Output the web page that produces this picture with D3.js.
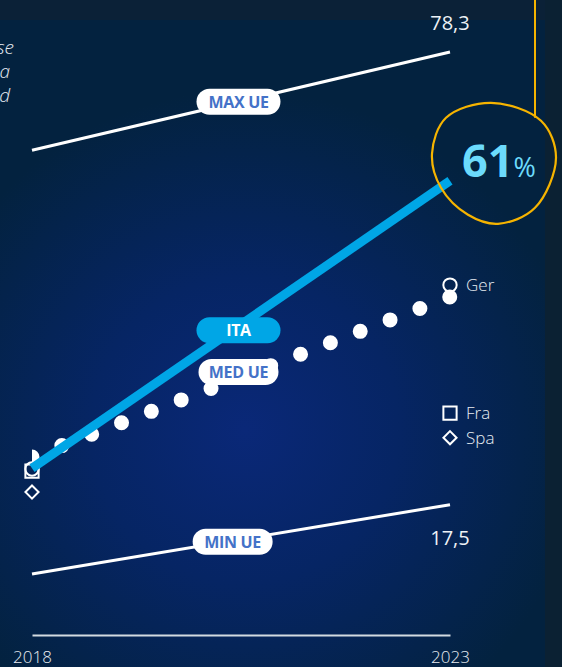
<!DOCTYPE html>
<html>
<head>
<meta charset="utf-8">
<script src="https://cdn.jsdelivr.net/npm/d3@7"></script>
<style>
body{margin:0;background:#03223f;overflow:hidden}
text{font-family:"Open Sans",sans-serif}
</style>
</head>
<body>
<div id="chart"></div>
<script>
// values
const years = [2018, 2023];
const ita = [22.4, 61.0];
const maxUe = [65.1, 78.3];
const minUe = [8.2, 17.5];
const medUe = [23.9, 45.4];
const countries = ["Ger", "Fra", "Spa"];
const ger = [22.3, 47.0];
const fra = [22.0, 29.8];
const spa = [19.2, 26.5];
const endLabels = ["78,3", "17,5"];
const introLines = ["che usano la carta rispetto alla base", "di clienti attivi in Italia e una", "media calcolata su tutto il mercato d"];

const width = 562;
const height = 667;

const svg = d3.select("#chart").append("svg")
    .attr("width", width)
    .attr("height", height);

const defs = svg.append("defs");
const grad = defs.append("radialGradient")
    .attr("id", "bg")
    .attr("gradientUnits", "userSpaceOnUse")
    .attr("cx", 245).attr("cy", 430).attr("r", 340);
grad.append("stop").attr("offset", "0").attr("stop-color", "#0a2878");
grad.append("stop").attr("offset", "0.45").attr("stop-color", "#062564");
grad.append("stop").attr("offset", "1").attr("stop-color", "#03223f");

// background
svg.append("rect").attr("width", width).attr("height", height).attr("fill", "url(#bg)");
svg.append("rect").attr("width", width).attr("height", 20).attr("fill", "#0b2137");
svg.append("rect").attr("x", 545).attr("width", 17).attr("height", height).attr("fill", "#0b2133");

const x = d3.scaleLinear().domain([2018, 2023]).range([32, 450]);
const y = d3.scaleLinear().domain([0, 78.3]).range([635, 52]);

defs.append("clipPath").attr("id", "plot")
    .append("rect").attr("x", x(2018)).attr("y", 0).attr("width", 600).attr("height", height);

// intro text, cut by the left edge
svg.append("g").selectAll("text")
    .data(introLines)
    .enter()
    .append("text")
    .attr("x", (d, i) => i == 0 ? 14 : 10)
    .attr("y", (d, i) => 54 + i * 24)
    .attr("text-anchor", "end")
    .attr("font-size", 19)
    .attr("font-style", "italic")
    .attr("font-weight", 300)
    .attr("fill", "#e6ebf2")
    .text(d => d);

// axis
const xAxis = d3.axisBottom(x)
    .tickValues(years)
    .tickFormat(d3.format("d"))
    .tickSize(0)
    .tickPadding(16);
const ax = svg.append("g")
    .attr("transform", "translate(0," + y(0) + ")")
    .call(xAxis);
ax.select(".domain").attr("stroke", "#d3dbe1").attr("stroke-width", 2);
ax.selectAll("text").attr("fill", "#e8edf2").attr("font-size", 17).attr("font-family", "Open Sans").attr("font-weight", 300);

const line = d3.line()
    .x((d, i) => x(years[i]))
    .y(d => y(d));

// max / min
[maxUe, minUe].forEach(s => {
    svg.append("path").attr("d", line(s))
        .attr("fill", "none").attr("stroke", "#ffffff").attr("stroke-width", 3);
});
svg.selectAll(".endlab")
    .data([maxUe, minUe])
    .enter()
    .append("text")
    .attr("class", "endlab")
    .attr("x", x(2023))
    .attr("y", (d, i) => i == 0 ? y(d[1]) - 22 : y(d[1]) + 40)
    .attr("text-anchor", "middle")
    .attr("font-size", 20)
    .attr("fill", "#eef2f6")
    .text((d, i) => endLabels[i]);

// median as dots
const med = svg.append("path").attr("d", line(medUe))
    .attr("clip-path", "url(#plot)")
    .attr("fill", "none").attr("stroke", "#ffffff")
    .attr("stroke-width", 15).attr("stroke-linecap", "round");
const len = med.node().getTotalLength();
med.attr("stroke-dasharray", "0," + (len / 14 - 0.02));

// country markers
const sym = {
    Ger: d3.symbol(d3.symbolCircle, 140),
    Fra: d3.symbol(d3.symbolSquare, 175),
    Spa: d3.symbol(d3.symbolDiamond2, 110)
};
const countryVals = [ger, fra, spa];
countries.forEach((c, k) => {
    countryVals[k].forEach((v, i) => {
        svg.append("path")
            .attr("d", sym[c]())
            .attr("transform", "translate(" + x(years[i]) + "," + y(v) + ")")
            .attr("fill", "none")
            .attr("stroke", "#ffffff")
            .attr("stroke-width", 2);
    });
    svg.append("text")
        .attr("x", x(2023) + 16)
        .attr("y", y(countryVals[k][1]) + 6)
        .attr("font-size", 17)
        .attr("font-weight", 300)
        .attr("fill", "#e8edf2")
        .text(c);
});

// Italy
svg.append("path").attr("d", line(ita))
    .attr("fill", "none").attr("stroke", "#00a6e6").attr("stroke-width", 9);

// pills
const pills = [
    {name: "MAX UE", s: maxUe, yr: 2020.47, off: 0, w: 84, fill: "#ffffff", col: "#4472c8"},
    {name: "ITA", s: ita, yr: 2020.47, off: 4, w: 84, fill: "#00a6e6", col: "#ffffff"},
    {name: "MED UE", s: medUe, yr: 2020.47, off: -6, w: 80, fill: "#ffffff", col: "#4472c8"},
    {name: "MIN UE", s: minUe, yr: 2020.4, off: 1, w: 80, fill: "#ffffff", col: "#4472c8"}
];
const interp = (s, yr) => s[0] + (s[1] - s[0]) * (yr - 2018) / 5;
const pg = svg.selectAll(".pill")
    .data(pills)
    .enter()
    .append("g")
    .attr("class", "pill")
    .attr("transform", d => "translate(" + x(d.yr) + "," + (y(interp(d.s, d.yr)) + d.off) + ")");
pg.append("rect")
    .attr("x", d => -d.w / 2)
    .attr("y", -13)
    .attr("width", d => d.w)
    .attr("height", 26)
    .attr("rx", 13)
    .attr("fill", d => d.fill);
pg.append("text")
    .attr("text-anchor", "middle")
    .attr("dy", 6)
    .attr("font-size", 16)
    .attr("font-weight", 700)
    .attr("letter-spacing", -0.3)
    .attr("fill", d => d.col)
    .text(d => d.name);

// highlight of the 2023 value
const cx = x(2023) + 43;
const cy = y(ita[1]) - 18;
const blob = [[-2,-60],[48,-42],[63,-5],[42,45],[5,61],[-25,52],[-52,25],[-61,-9],[-47,-45]];
svg.append("path")
    .attr("d", d3.line().curve(d3.curveCatmullRomClosed)(blob.map(p => [cx + p[0], cy + p[1]])))
    .attr("fill", "none")
    .attr("stroke", "#f6b400")
    .attr("stroke-width", 2.2);
svg.append("line")
    .attr("x1", 535).attr("x2", 535)
    .attr("y1", 0).attr("y2", cy - 45)
    .attr("stroke", "#f6b400").attr("stroke-width", 2);
const big = svg.append("text")
    .attr("x", x(2023) + 12)
    .attr("y", y(ita[1]) - 4)
    .attr("fill", "#6cdbfc");
big.append("tspan").attr("font-size", 45).attr("font-weight", 700).text(d3.format("d")(ita[1]));
big.append("tspan").attr("font-size", 27).attr("font-weight", 400).text("%");
</script>
</body>
</html>
